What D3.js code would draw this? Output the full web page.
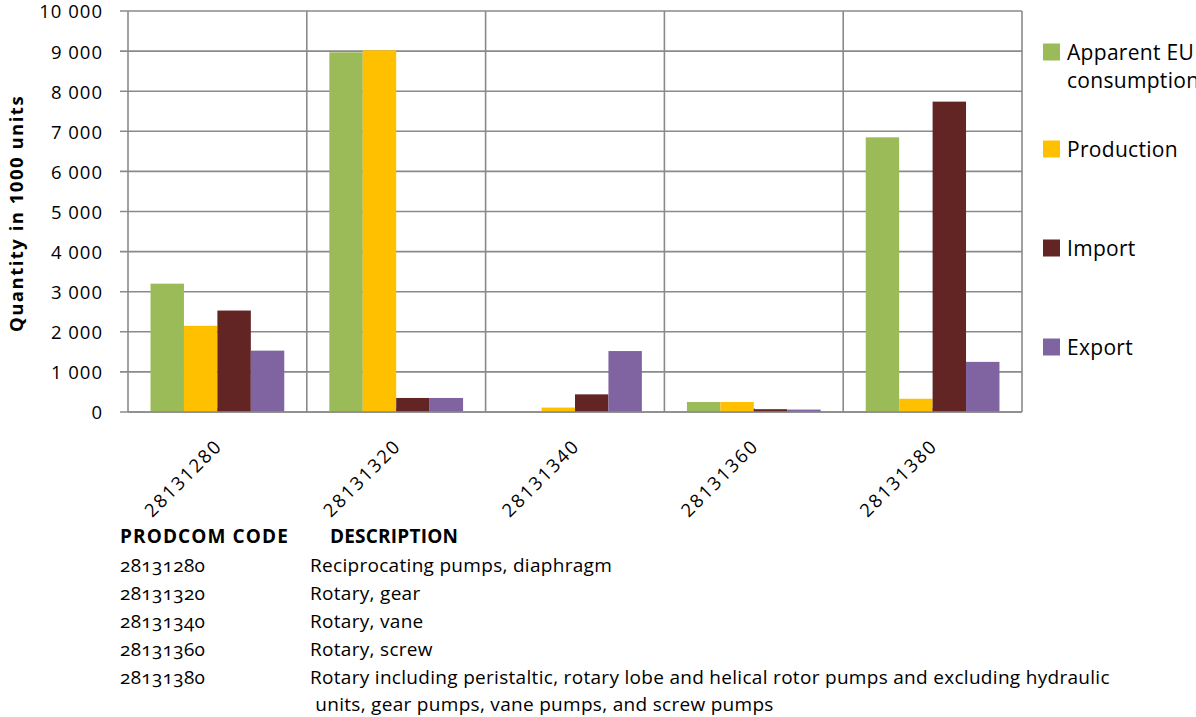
<!DOCTYPE html>
<html>
<head>
<meta charset="utf-8">
<script src="https://cdn.jsdelivr.net/npm/d3@7"></script>
<style>
  html, body { margin: 0; padding: 0; background: #fff; }
  svg { display: block; font-family: "Open Sans", Lato, sans-serif; }
  .codes { font-variant-numeric: oldstyle-nums; }
</style>
</head>
<body>
<svg id="chart" width="1196" height="717"></svg>
<script>
// PRODCOM codes on the category axis
const categories = ["28131280", "28131320", "28131340", "28131360", "28131380"];

// Series names and values (quantity in 1000 units)
const seriesNames = ["Apparent EU consumption", "Production", "Import", "Export"];
const consumption = [3200, 8970, 0, 250, 6850];
const production  = [2150, 9020, 110, 250, 330];
const imports     = [2530, 350, 440, 70, 7740];
const exports     = [1530, 350, 1520, 60, 1250];
const seriesValues = [consumption, production, imports, exports];
const seriesColors = ["#9BBB59", "#FFC000", "#632523", "#8064A2"];

const yTicks = [0, 1000, 2000, 3000, 4000, 5000, 6000, 7000, 8000, 9000, 10000];

// Description table under the chart
const tableHeader = ["PRODCOM CODE", "DESCRIPTION"];
const tableCodes = ["28131280", "28131320", "28131340", "28131360", "28131380"];
const tableDescriptions = [
  ["Reciprocating pumps, diaphragm"],
  ["Rotary, gear"],
  ["Rotary, vane"],
  ["Rotary, screw"],
  ["Rotary including peristaltic, rotary lobe and helical rotor pumps and excluding hydraulic",
   " units, gear pumps, vane pumps, and screw pumps"]
];

const svg = d3.select("#chart");
const plot = { left: 128, right: 1022, top: 11, bottom: 412 };
const gridColor = "#8a8a8a";

const x0 = d3.scaleBand().domain(categories).range([plot.left, plot.right]).padding(0);
const bw = x0.bandwidth();
const x1 = d3.scaleBand().domain(d3.range(seriesNames.length))
  .range([bw * 0.126, bw * 0.874]).padding(0);
const y = d3.scaleLinear().domain([0, 10000]).range([plot.bottom, plot.top]);

const fmt = v => d3.format(",")(v).replace(/,/g, " ");

// Horizontal gridlines
svg.append("g").selectAll("line").data(yTicks).join("line")
  .attr("x1", plot.left - 8).attr("x2", plot.right)
  .attr("y1", d => y(d)).attr("y2", d => y(d))
  .attr("stroke", gridColor).attr("stroke-width", 1.6);

// Vertical gridlines at category boundaries
const bounds = categories.map(c => x0(c)).concat([plot.right]);
svg.append("g").selectAll("line").data(bounds).join("line")
  .attr("x1", d => d).attr("x2", d => d)
  .attr("y1", plot.top).attr("y2", plot.bottom)
  .attr("stroke", gridColor).attr("stroke-width", 1.6);

// Small category tick marks at group centres
svg.append("g").selectAll("line").data(categories).join("line")
  .attr("x1", d => x0(d) + bw / 2).attr("x2", d => x0(d) + bw / 2)
  .attr("y1", plot.bottom - 4).attr("y2", plot.bottom)
  .attr("stroke", gridColor).attr("stroke-width", 1.6);

// Bars
const groups = svg.append("g").selectAll("g").data(categories).join("g")
  .attr("transform", d => `translate(${x0(d)},0)`);
groups.selectAll("rect")
  .data((c, ci) => seriesValues.map((vals, si) => ({ si, v: vals[ci] })))
  .join("rect")
  .attr("x", d => x1(d.si))
  .attr("width", x1.bandwidth())
  .attr("y", d => y(d.v))
  .attr("height", d => y(0) - y(d.v))
  .attr("fill", d => seriesColors[d.si]);

// Baseline
svg.append("line")
  .attr("x1", plot.left).attr("x2", plot.right)
  .attr("y1", y(0)).attr("y2", y(0))
  .attr("stroke", gridColor).attr("stroke-width", 1.6);

// Y axis labels
svg.append("g").selectAll("text").data(yTicks).join("text")
  .attr("x", 103).attr("y", d => y(d) + 1).attr("dy", "0.35em")
  .attr("text-anchor", "end").attr("font-size", 18.5).attr("letter-spacing", 1)
  .attr("fill", "#000")
  .text(fmt);

// Y axis title
svg.append("text")
  .attr("transform", `translate(23,${(plot.top + plot.bottom) / 2 + 2}) rotate(-90)`)
  .attr("text-anchor", "middle").attr("font-size", 18.5).attr("font-weight", "bold")
  .attr("letter-spacing", 1.5)
  .text("Quantity in 1000 units");

// Rotated category labels
svg.append("g").selectAll("text").data(categories).join("text")
  .attr("transform", d => `translate(${x0(d) + bw / 2 + 6},${plot.bottom + 35}) rotate(-45)`)
  .attr("text-anchor", "end").attr("font-size", 18.5).attr("letter-spacing", 2)
  .text(d => d);

// Legend
const legendY = [52, 149, 248, 347];
const legend = svg.append("g").selectAll("g").data(seriesNames).join("g")
  .attr("transform", (d, i) => `translate(1043,${legendY[i]})`);
legend.append("rect").attr("x", 0).attr("y", -8.5).attr("width", 17).attr("height", 17)
  .attr("fill", (d, i) => seriesColors[i]);
legend.append("text").attr("x", 24).attr("dy", "0.36em").attr("font-size", 21)
  .attr("letter-spacing", 0.3)
  .each(function (d) {
    const t = d3.select(this);
    if (d === "Apparent EU consumption") {
      t.append("tspan").attr("x", 24).text("Apparent EU");
      t.append("tspan").attr("x", 24).attr("dy", 28).text("consumption");
    } else {
      t.text(d);
    }
  });

// Description table
const table = svg.append("g").attr("font-size", 19).attr("letter-spacing", 0.3);
table.append("text").attr("x", 120).attr("y", 543).attr("font-weight", "bold")
  .attr("letter-spacing", 1.1).text(tableHeader[0]);
table.append("text").attr("x", 330).attr("y", 543).attr("font-weight", "bold")
  .attr("letter-spacing", 0.2).text(tableHeader[1]);
const rowY = [572, 600, 628, 656, 684];
tableCodes.forEach((code, i) => {
  table.append("text").attr("class", "codes").attr("x", 120).attr("y", rowY[i]).text(code);
  tableDescriptions[i].forEach((line, j) => {
    table.append("text").attr("x", 310).attr("y", rowY[i] + j * 27)
      .attr("xml:space", "preserve").style("white-space", "pre").text(line);
  });
});
</script>
</body>
</html>
